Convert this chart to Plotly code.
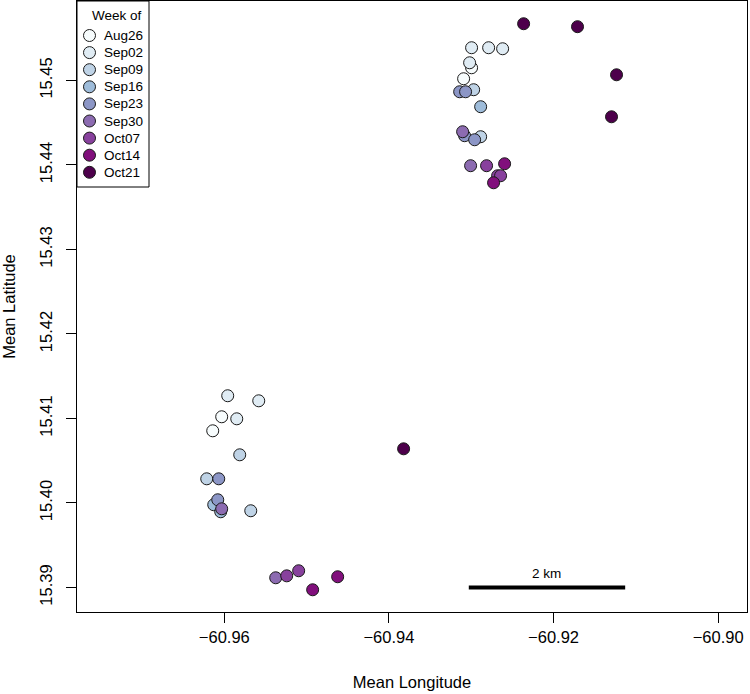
import plotly.graph_objects as go

weeks = ["Aug26", "Sep02", "Sep09", "Sep16", "Sep23", "Sep30", "Oct07", "Oct14", "Oct21"]
week_colors = ["#F7FCFD", "#E0ECF4", "#BFD3E6", "#9EBCDA", "#8C96C6",
               "#8C6BB1", "#88419D", "#810F7C", "#4D004B"]

point_week = [
    "Aug26", "Aug26", "Aug26", "Aug26",
    "Sep02", "Sep02", "Sep02", "Sep02", "Sep02", "Sep02", "Sep02",
    "Sep09", "Sep09", "Sep09", "Sep09", "Sep09",
    "Sep16", "Sep16", "Sep16",
    "Sep23", "Sep23", "Sep23", "Sep23", "Sep23", "Sep23",
    "Sep30", "Sep30", "Sep30", "Sep30",
    "Oct07", "Oct07", "Oct07", "Oct07", "Oct07",
    "Oct14", "Oct14", "Oct14", "Oct14",
    "Oct21", "Oct21", "Oct21", "Oct21", "Oct21",
]
point_lon = [
    -60.92996, -60.93093, -60.96032, -60.96141,
    -60.92996, -60.92789, -60.92619, -60.93020, -60.95959, -60.95582, -60.95849,
    -60.92971, -60.92886, -60.95813, -60.96214, -60.95679,
    -60.92886, -60.96129, -60.96044,
    -60.93141, -60.93069, -60.93081, -60.92959, -60.96068, -60.96080,
    -60.93105, -60.93008, -60.96032, -60.95376,
    -60.92814, -60.92680, -60.92644, -60.95242, -60.95097,
    -60.92595, -60.92729, -60.94927, -60.94623,
    -60.92364, -60.91709, -60.91235, -60.91296, -60.93822,
]
point_lat = [
    15.45150, 15.45020, 15.41020, 15.40854,
    15.45387, 15.45387, 15.45375, 15.45209, 15.41269, 15.41209, 15.40996,
    15.44890, 15.44334, 15.40570, 15.40286, 15.39908,
    15.44689, 15.39979, 15.39896,
    15.44866, 15.44866, 15.44346, 15.44298, 15.40286, 15.40038,
    15.44393, 15.43991, 15.39931, 15.39115,
    15.43991, 15.43872, 15.43872, 15.39138, 15.39198,
    15.44014, 15.43789, 15.38973, 15.39127,
    15.45671, 15.45636, 15.45067, 15.44570, 15.40641,
]

x_ticks = [-60.96, -60.94, -60.92, -60.90]
y_ticks = [15.39, 15.40, 15.41, 15.42, 15.43, 15.44, 15.45]
x_range = [-60.9779, -60.8965]
y_range = [15.3871, 15.4594]

scale_bar_lon = [-60.9303, -60.9113]
scale_bar_lat = 15.39
scale_label = "2 km"
scale_label_lat = 15.3916

legend_title = "Week of"

FONT = "Liberation Sans, Arial, Helvetica, sans-serif"
W, H = 750, 694
ML, MR, MT, MB = 77, 3, 1, 82
PW, PH = W - ML - MR, H - MT - MB  # plot area in px

fig = go.Figure()
for wk, col in zip(weeks, week_colors):
    xs = [lo for lo, w in zip(point_lon, point_week) if w == wk]
    ys = [la for la, w in zip(point_lat, point_week) if w == wk]
    fig.add_trace(go.Scatter(
        x=xs, y=ys, mode="markers", name=wk, showlegend=False,
        marker=dict(size=12, color=col, line=dict(color="#1a1a1a", width=1)),
    ))

# ---- legend drawn in a pixel-based overlay axis (x2/y2) ----
LEG_W, LEG_H = 72, 186
LEG_SYM_X, LEG_TXT_X = 12.5, 24.5
LEG_TITLE_Y, LEG_FIRST_Y, LEG_STEP = 14, 34.5, 17.1
leg_y = [PH - (LEG_FIRST_Y + i * LEG_STEP) for i in range(len(weeks))]
fig.add_trace(go.Scatter(
    x=[LEG_SYM_X] * len(weeks), y=leg_y, xaxis="x2", yaxis="y2",
    mode="markers", showlegend=False, hoverinfo="skip",
    marker=dict(size=12, color=week_colors, line=dict(color="#1a1a1a", width=1)),
))
fig.add_shape(type="rect", xref="x2", yref="y2", x0=0, x1=LEG_W, y0=PH - LEG_H, y1=PH,
              line=dict(color="black", width=1), fillcolor="rgba(0,0,0,0)", layer="above")
fig.add_annotation(x=LEG_W / 2 + 3.5, y=PH - LEG_TITLE_Y, xref="x2", yref="y2",
                   text=legend_title, showarrow=False, xanchor="center", yanchor="middle",
                   font=dict(size=13.5, color="black", family=FONT))
for wk, yy in zip(weeks, leg_y):
    fig.add_annotation(x=LEG_TXT_X, y=yy, xref="x2", yref="y2", text=wk,
                       showarrow=False, xanchor="left", yanchor="middle",
                       font=dict(size=13.5, color="black", family=FONT))

# ---- scale bar ----
fig.add_shape(type="line", xref="x", yref="y",
              x0=scale_bar_lon[0], x1=scale_bar_lon[1],
              y0=scale_bar_lat, y1=scale_bar_lat,
              line=dict(color="black", width=4))
fig.add_annotation(x=sum(scale_bar_lon) / 2, y=scale_label_lat, text=scale_label,
                   showarrow=False, font=dict(size=13.5, color="black", family=FONT))

axis_common = dict(showgrid=False, zeroline=False, showline=True, linecolor="black",
                   linewidth=1, mirror=True, ticks="outside", ticklen=10,
                   tickcolor="black", automargin=False,
                   tickfont=dict(size=16.5, color="black", family=FONT))

fig.update_xaxes(range=x_range, tickvals=x_ticks,
                 ticktext=[f"\u2212{abs(v):.2f}" for v in x_ticks],
                 title=dict(text="Mean Longitude", font=dict(size=16.5, color="black", family=FONT),
                            standoff=31),
                 **axis_common)
fig.update_yaxes(range=y_range, tickvals=y_ticks,
                 ticktext=[f"{v:.2f}" for v in y_ticks], tickangle=-90,
                 ticklabelstandoff=7,
                 title=dict(text="Mean Latitude", font=dict(size=16.5, color="black", family=FONT),
                            standoff=20),
                 **axis_common)

fig.update_layout(
    width=W, height=H,
    margin=dict(l=ML, r=MR, t=MT, b=MB, autoexpand=False),
    plot_bgcolor="white", paper_bgcolor="white",
    font=dict(family=FONT, color="black"),
    showlegend=False,
    xaxis2=dict(overlaying="x", anchor="y2", range=[0, PW], visible=False, fixedrange=True),
    yaxis2=dict(overlaying="y", anchor="x2", range=[0, PH], visible=False, fixedrange=True),
)

fig.write_html("out.html", config={"displayModeBar": False},
               post_script="document.body.style.margin='0';document.body.style.padding='0';")
